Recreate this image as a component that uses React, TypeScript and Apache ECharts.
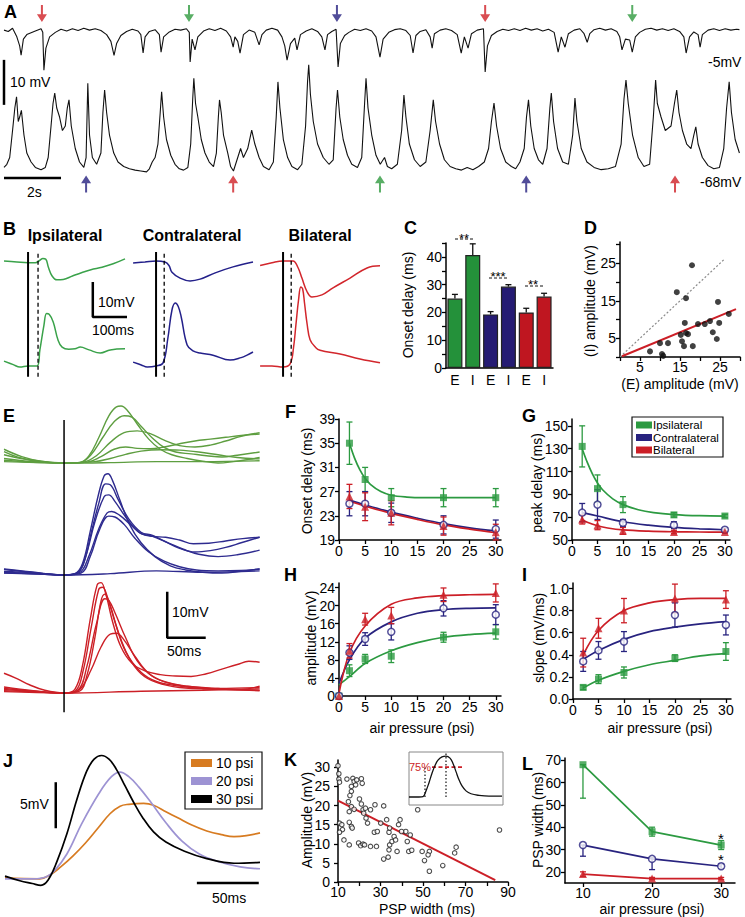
import React, { useEffect, useRef } from "react";
import * as echarts from "echarts";

const FONT = "'Liberation Sans', Arial, Helvetica, sans-serif";
const GREEN = "#2c9a41";
const BLUE = "#28237f";
const RED = "#cc1f27";
const BAR_COLORS = ["#24913a", "#24913a", "#251b73", "#251b73", "#bf1620", "#bf1620"];
const ARROW_COLORS: Record<string, string> = { red: "#cf2027", green: "#2f9a3f", blue: "#25217f" };

// ---------------- Panel A (time s, mV) ----------------
const A_TOP: number[][] = [[0,0],[0.15,-0.3],[0.3,0.4],[0.45,-1.5],[0.55,-3.5],[0.6,-5.6],[0.68,-2],[0.8,-1],[0.95,-0.6],[1.1,-0.2],[1.3,0.3],[1.36,-0.5],[1.4,-8.9],[1.47,-4],[1.6,-1.5],[1.8,-0.5],[2.0,0.2],[2.2,-0.2],[2.4,0.3],[2.6,-0.1],[2.8,0.4],[3.0,0],[3.2,0.3],[3.4,-0.1],[3.6,-1],[3.75,-2.5],[3.86,-5.6],[3.95,-3],[4.1,-1.2],[4.3,-0.3],[4.5,0.2],[4.7,-0.2],[4.8,-1],[4.88,-5.1],[4.95,-1.5],[5.1,-0.3],[5.3,0.1],[5.45,-1],[5.51,-4.9],[5.6,-1.5],[5.8,-0.4],[6.0,0.2],[6.2,0],[6.4,0.3],[6.5,-0.5],[6.53,-7.1],[6.6,-2],[6.7,-4.4],[6.8,-1.5],[7.0,-0.2],[7.2,0.3],[7.4,-0.1],[7.6,0.4],[7.8,-0.2],[7.95,-1.5],[8.04,-3.8],[8.1,-1.5],[8.2,-2.5],[8.28,-5.1],[8.4,-1],[8.6,0],[8.8,-0.5],[8.95,-3.3],[9.05,-1],[9.2,0],[9.4,0.4],[9.6,0],[9.75,-1.5],[9.85,-3.5],[9.93,-6.7],[10.05,-3],[10.2,-1.8],[10.28,-4.4],[10.4,-1],[10.6,-0.2],[10.8,0.3],[11.0,-0.3],[11.15,-1.5],[11.26,-4.4],[11.35,-1],[11.5,-0.3],[11.65,0.2],[11.72,-8.2],[11.8,-3],[11.95,-1.2],[12.1,-0.5],[12.3,0.2],[12.5,-0.1],[12.7,0.3],[12.9,-0.2],[13.05,-1.5],[13.19,-6],[13.3,-2],[13.5,-0.5],[13.7,0.1],[13.9,0.3],[14.1,-0.1],[14.25,-1.2],[14.35,-5.1],[14.45,-1.2],[14.6,-0.3],[14.8,0.1],[14.95,-1.5],[15.02,-4],[15.1,-0.8],[15.3,0],[15.5,0.3],[15.7,-0.1],[15.9,-1],[16.04,-5.1],[16.15,-1.5],[16.28,-4],[16.4,-0.8],[16.6,0],[16.82,0.3],[16.88,-9.3],[16.96,-3.5],[17.1,-1.2],[17.3,-0.3],[17.5,0.2],[17.7,-0.1],[17.9,0.3],[18.1,-0.1],[18.3,0.4],[18.5,0],[18.7,0.3],[18.9,-0.2],[19.1,0.2],[19.3,-0.5],[19.44,-4.9],[19.55,-1.5],[19.68,-3.8],[19.8,-0.8],[20.0,0],[20.2,0.3],[20.35,-0.8],[20.46,-2.7],[20.55,-0.8],[20.7,0.1],[20.9,0.4],[21.1,0],[21.3,0.3],[21.5,-0.3],[21.6,-1.5],[21.68,-4.4],[21.8,-2],[21.95,-2.2],[22.04,-4.9],[22.15,-1.5],[22.3,-0.5],[22.5,0.2],[22.7,0.4],[22.9,0],[23.1,0.3],[23.3,-0.1],[23.5,0.3],[23.7,-0.3],[23.85,-1.5],[23.93,-5.1],[24.05,-1.5],[24.2,-0.4],[24.35,-1],[24.42,-3.8],[24.5,-1],[24.7,0],[24.9,0.3],[25.1,-0.1],[25.3,0.3],[25.5,0],[25.7,0.2],[25.8,0.1]];
const A_BOTTOM: number[][] = [[0,0.8],[0.1,1.5],[0.2,3],[0.3,9],[0.38,14],[0.44,16.5],[0.5,11],[0.55,12],[0.61,13.5],[0.7,8],[0.8,4],[0.95,2],[1.1,0.8],[1.3,0.3],[1.45,0.8],[1.55,3],[1.65,10],[1.72,15],[1.78,17.3],[1.85,14],[1.95,12],[2.05,9],[2.15,10],[2.22,14],[2.28,15.8],[2.36,10],[2.5,5],[2.65,2],[2.8,0.8],[2.88,3],[2.94,19.5],[3.0,8],[3.1,3],[3.25,1.5],[3.4,4],[3.47,13],[3.53,18],[3.6,13],[3.7,8],[3.85,4],[4.0,2],[4.2,1],[4.4,0.5],[4.6,0.2],[4.8,0],[5.0,-0.2],[5.1,0.5],[5.2,2],[5.3,3],[5.4,6],[5.48,13],[5.53,17.6],[5.6,12],[5.7,7],[5.85,3.5],[6.0,1.5],[6.15,0.5],[6.3,0.2],[6.45,0.8],[6.55,6],[6.62,16],[6.66,20.6],[6.72,15],[6.8,12],[6.92,7],[7.05,4],[7.2,2],[7.35,1],[7.45,4],[7.52,12],[7.56,15.8],[7.62,13],[7.7,8],[7.85,4],[7.95,1],[8.05,0],[8.15,2],[8.3,5],[8.4,3],[8.55,5],[8.69,9.1],[8.8,6],[8.95,3],[9.1,1],[9.3,0.3],[9.45,2],[9.55,12],[9.61,19.8],[9.68,14],[9.8,7],[9.95,3],[10.1,1],[10.3,0.3],[10.45,1.5],[10.58,10],[10.65,20],[10.69,23.6],[10.75,17],[10.85,11],[11.0,6],[11.2,3],[11.4,1.5],[11.55,2.5],[11.65,14],[11.7,18],[11.78,12],[11.9,7],[12.05,3.5],[12.2,1.5],[12.4,0.8],[12.55,3],[12.65,15],[12.7,20.6],[12.77,14],[12.9,8],[13.05,3.5],[13.2,1.5],[13.35,3],[13.45,1],[13.6,0.5],[13.8,1.5],[13.95,9],[14.03,16.9],[14.1,12],[14.22,6],[14.4,2.5],[14.6,1],[14.8,2],[14.95,9],[15.06,15.8],[15.14,11],[15.28,6],[15.45,2.5],[15.65,1],[15.85,0.5],[16.05,0.2],[16.25,0.8],[16.45,0.3],[16.65,1],[16.85,2],[17.0,5],[17.1,11],[17.19,15.1],[17.28,10],[17.42,5],[17.6,2],[17.8,1],[17.95,0.5],[18.1,2],[18.25,5],[18.33,12],[18.4,15.8],[18.48,10],[18.6,5],[18.75,2.5],[18.9,1.5],[19.05,5],[19.15,14],[19.2,17.3],[19.28,11],[19.42,5],[19.6,2],[19.8,1.5],[19.95,8],[20.03,16.2],[20.1,11],[20.25,5],[20.45,2],[20.7,0.8],[20.95,0.3],[21.2,0.5],[21.45,1],[21.65,6],[21.75,16],[21.82,20.2],[21.9,15],[22.05,8],[22.25,3],[22.45,1],[22.65,1.5],[22.78,12],[22.86,20.2],[22.92,15],[23.05,12],[23.2,9],[23.4,10],[23.52,15],[23.6,18],[23.68,13],[23.8,9],[23.95,6],[24.1,5],[24.2,8],[24.27,9.8],[24.35,6],[24.5,3],[24.7,1.2],[24.9,0.5],[25.1,0.8],[25.25,5],[25.35,14],[25.44,19.8],[25.52,13],[25.65,7],[25.8,4]];
const A_ARROWS_TOP_T = [1.33, 6.49, 11.68, 16.88, 22.04];
const A_ARROWS_TOP_C = ["red", "green", "blue", "red", "green"];
const A_ARROWS_BOT_T = [2.88, 8.04, 13.19, 18.32, 23.54];
const A_ARROWS_BOT_C = ["blue", "red", "green", "blue", "red"];
const A_BAR_MV = [[0, 24.7], [0, 14.7]];
const A_BAR_S = [[0, -1.56], [2, -1.56]];

// ---------------- Panel B (ms, mV) ----------------
const B_IPSI_TOP = [[-65,0.3],[-30,0],[0,-0.2],[20,-0.2],[32,0.5],[40,1],[48,0.8],[55,-1.5],[65,-4],[78,-5.1],[95,-5],[120,-4],[146,-3],[170,-2.2],[200,-1.5],[230,-0.5],[262,0.9]];
const B_IPSI_BOT = [[-65,1.4],[-40,0.4],[-22,-0.3],[0,0],[24,0],[32,4.6],[43,11.7],[50,15],[57,14.8],[68,12.6],[81,7.4],[92,5.4],[110,4.8],[127,4.9],[141,5.4],[165,4.6],[195,3.7],[222,4.6],[262,4.9]];
const B_CONTRA_TOP = [[-62,-0.3],[-30,0],[0,0.3],[24,0],[35,-1],[43,-2.9],[65,-4.6],[92,-5.4],[119,-4.9],[160,-3.1],[208,-1.4],[262,0]];
const B_CONTRA_BOT = [[-62,1.1],[-40,0.3],[-24,-0.3],[0,0],[19,0.9],[32,8],[43,16],[52,18],[60,17],[68,14],[84,6],[100,4.3],[119,3.7],[154,3.1],[200,1.7],[230,2.4],[246,3.1],[262,4]];
const B_BIL_TOP = [[-62,-1],[-30,-0.2],[0,0.3],[27,0.3],[40,-1.5],[51,-4.6],[65,-8.5],[78,-10],[105,-9.4],[135,-7.4],[181,-4.6],[227,-1.7],[262,-1.1]];
const B_BIL_BOT = [[-62,0],[-30,0],[0,-0.3],[19,0.6],[28,5],[35,12],[42,19],[48,22.6],[53,22],[58,18],[65,12],[73,7.5],[88,5.3],[100,4.5],[154,3.4],[208,2],[262,0.9]];
const B_DASH_MS = [27, 22, 22];
const B_LINE_MV = [-3.1, 32.6];
const B_SCALE = [[175, 24], [175, 14], [275, 14]];

// ---------------- Panel C ----------------
const C_LABELS = ["E", "I", "E", "I", "E", "I"];
const C_MEANS = [25, 40.7, 19.3, 29.3, 20, 25.7];
const C_ERR = [1.5, 4, 1, 0.7, 1.5, 1.2];

// ---------------- Panel D (E amp, I amp) ----------------
const D_POINTS = [[7.5,1.5],[10,3.7],[10.5,0.8],[10.8,0.3],[12,3.7],[14.2,17.3],[15.2,5.9],[15.5,4.2],[16,2.9],[16.2,9.1],[16.5,15.7],[16.5,6.4],[17,6.1],[18,24.5],[18.2,2.9],[19.5,8.8],[21.2,8.8],[22.5,9.6],[23.2,6.6],[24.2,4.8],[24.5,14.7],[24.8,9.1],[27.2,11.5]];
const D_FIT = [[0.5, 0.2], [29, 12.8]];
const D_UNITY = [[0, 0], [26, 26]];

// ---------------- Panel E (ms, mV) ----------------
const E_IPSI = [
  [[-78,2.5],[-60,1.3],[-40,0.6],[-20,0.2],[0,0],[20,0.1],[32,1.5],[45,5.5],[58,10.2],[68,12.2],[74,12.4],[82,11.5],[95,8.5],[110,5.2],[125,3],[140,1.8],[160,1],[180,0.4],[200,0],[220,0.3],[240,0.8],[254,1.2]],
  [[-78,3],[-55,1.4],[-30,0.4],[0,0],[22,0.2],[35,1.8],[50,5.5],[65,9],[78,10.3],[88,10],[100,8],[115,5.4],[130,3.4],[145,2.4],[165,2],[185,1.6],[205,1.3],[225,1.7],[254,2.4]],
  [[-78,1.8],[-50,0.8],[-20,0.1],[0,0],[25,0.2],[42,1.6],[60,4.5],[78,6.6],[95,7],[112,6.4],[130,5],[150,3.8],[170,3.5],[190,3.9],[210,4.8],[230,5.8],[254,6.6]],
  [[-78,1],[-40,0.3],[0,0],[30,0.2],[48,1.4],[65,3],[80,3.5],[95,3.2],[112,3.1],[130,3.5],[150,4.2],[170,4.8],[190,5.2],[210,5.6],[230,6],[254,6.3]],
  [[-78,0.6],[-30,0.1],[0,0],[40,0.3],[60,1],[80,1.9],[100,2.6],[125,2.9],[150,2.8],[175,2.4],[200,1.8],[225,1.2],[254,0.9]],
  [[-78,0.3],[0,0],[60,0.1],[120,0.3],[180,0.3],[254,0.5]],
];
const E_CONTRA = [
  [[-78,1.2],[-50,0.7],[-20,0.2],[0,0],[14,0.3],[24,2.5],[34,9.5],[44,17],[52,21.5],[57,22],[63,20.5],[72,16.5],[85,11],[100,7],[118,4],[138,2],[158,1.1],[180,0.6],[205,0.4],[230,0.8],[254,1.3]],
  [[-78,0.8],[-40,0.5],[0,0],[15,0.3],[25,2.3],[35,9],[45,15.5],[54,19.8],[60,19.6],[70,16.5],[84,12.2],[100,9.3],[115,8.6],[130,7.4],[150,5.8],[170,5],[190,5.3],[210,6],[230,7],[254,8.2]],
  [[-78,0.6],[-40,0.3],[0,0],[18,0.5],[28,4],[40,11.5],[52,17],[58,17.4],[66,16],[80,12.6],[98,9.2],[115,8.4],[135,7],[155,5.6],[175,4.5],[200,4],[225,4.4],[254,5.4]],
  [[-78,1.3],[-45,0.7],[0,0],[20,0.5],[32,4],[45,10],[56,13.5],[62,13.8],[72,13],[86,11],[100,9],[115,8.4],[132,8.2],[150,7.6],[168,6.8],[188,6.9],[210,7.4],[232,7.9],[254,8.2]],
  [[-78,0.4],[-30,0.2],[0,0],[22,0.4],[34,4],[46,9.8],[58,12.8],[66,12.6],[78,11],[92,8],[110,5],[130,3],[150,1.8],[172,1.1],[200,0.9],[230,1],[254,1.3]],
  [[-78,0.5],[-30,0.2],[0,0],[60,0.3],[120,0.9],[180,0.6],[254,0.9]],
];
const E_BIL = [
  [[-78,4.3],[-62,3.2],[-45,1.8],[-25,0.6],[0,0],[14,0.8],[24,6],[34,16],[43,23.5],[48,24],[55,21],[63,15.5],[74,10],[88,6.5],[105,4.8],[125,4],[145,3.7],[165,3.6],[185,4.2],[205,5.2],[225,6.2],[240,6.9],[254,6.7]],
  [[-78,1],[-40,0.4],[0,0],[15,0.5],[25,5],[35,14],[45,22.5],[50,23],[56,21],[66,15.5],[80,9],[100,4.5],[120,2.5],[150,1.5],[180,1],[210,0.8],[254,0.5]],
  [[-78,0.8],[-40,0.3],[0,0],[18,0.6],[30,6],[42,15],[53,20.5],[58,20.2],[66,17.5],[80,12],[95,7],[115,3.6],[140,2],[170,1.3],[200,1],[230,0.8],[254,1.5]],
  [[-78,1.3],[-40,0.5],[0,0],[20,0.8],[35,5],[48,10],[60,12.8],[68,13],[78,11.5],[92,8],[110,4.3],[130,2.5],[160,1.5],[200,1],[254,1.2]],
  [[-78,0.5],[-30,0.2],[0,0],[20,0.4],[30,4],[40,12],[48,20],[53,21.5],[60,19],[70,13.5],[84,7.8],[100,4.2],[120,2.3],[150,1.2],[200,0.8],[254,0.6]],
  [[-78,0.3],[0,0],[100,0.4],[180,0.6],[254,0.9]],
];
const E_STIM = [[0, 33.7], [0, -29.8]];
const E_SCALE = [[134, 22], [134, 12], [184, 12]];

// ---------------- Panels F-I ----------------
const PRESSURE = [2, 5, 10, 20, 30];
const F_IPSI = [35, 29, 26, 26, 26];
const F_IPSI_ERR = [3.5, 2, 1.5, 1.5, 1.5];
const F_CONTRA = [25, 25, 23.5, 21.5, 20.8];
const F_CONTRA_ERR = [2, 2, 1.6, 1.5, 1.5];
const F_BIL = [26.2, 24.5, 23.5, 21.3, 20.3];
const F_BIL_ERR = [2, 2.3, 2, 1.5, 1.3];
const F_FIT_IPSI = [[2,35],[3,32.5],[4,30.6],[5,29.2],[6,28.2],[8,27],[10,26.4],[13,26.1],[16,26],[20,26],[25,26],[30,26]];
const F_FIT_CONTRA = [[2,25.6],[5,24.8],[10,23.6],[15,22.6],[20,21.7],[25,21],[30,20.5]];
const F_FIT_BIL = [[2,25.4],[5,24.6],[10,23.4],[15,22.4],[20,21.5],[25,20.8],[30,20.2]];

const G_IPSI = [132, 95, 81, 72, 71];
const G_IPSI_ERR = [18, 12, 7, 2, 1.5];
const G_CONTRA = [74, 81, 65, 63, 59];
const G_CONTRA_ERR = [8, 13, 3, 3, 1.5];
const G_BIL = [68, 63, 58, 57, 57];
const G_BIL_ERR = [4, 4, 3, 1.5, 1];
const G_FIT_IPSI = [[2,130],[3,118],[4,108],[5,100],[6,94],[8,86],[10,81],[13,76.5],[16,74],[20,72.3],[25,71.3],[30,71]];
const G_FIT_CONTRA = [[2,74],[5,71],[10,66],[15,63],[20,61],[25,59.8],[30,59]];
const G_FIT_BIL = [[2,68],[3,65.5],[5,62.5],[7,60.5],[10,58.8],[15,57.7],[20,57.2],[25,57],[30,56.9]];

const H_PRESSURE = [0, 2, 5, 10, 20, 30];
const H_IPSI = [0, 5.6, 8.2, 8.8, 13, 14.2];
const H_IPSI_ERR = [0, 1.3, 1, 1.4, 1.1, 1.6];
const H_CONTRA = [0, 9.6, 12.6, 14.2, 19.4, 18];
const H_CONTRA_ERR = [0, 1.5, 1.4, 1.8, 1.7, 2.2];
const H_BIL = [0, 10, 17, 17.8, 22.4, 22.8];
const H_BIL_ERR = [0, 1.6, 1.3, 1.8, 1.5, 2];
const H_FIT_IPSI = [[0,2.5],[2,4.3],[5,7.2],[10,10],[15,11.8],[20,13],[25,13.6],[30,13.9]];
const H_FIT_CONTRA = [[0,2.8],[2,8],[5,12.8],[10,16.4],[15,18.3],[20,19.1],[25,19.4],[30,19.5]];
const H_FIT_BIL = [[0,0.6],[2,9.5],[5,15.5],[10,20.3],[15,21.7],[20,22.2],[25,22.4],[30,22.5]];

const I_IPSI = [0.105, 0.18, 0.24, 0.37, 0.43];
const I_IPSI_ERR = [0.02, 0.04, 0.05, 0.03, 0.08];
const I_CONTRA = [0.34, 0.44, 0.52, 0.76, 0.67];
const I_CONTRA_ERR = [0.09, 0.08, 0.09, 0.11, 0.09];
const I_BIL = [0.42, 0.64, 0.8, 0.91, 0.9];
const I_BIL_ERR = [0.13, 0.09, 0.11, 0.13, 0.08];
const I_FIT_IPSI = [[2,0.1],[5,0.17],[10,0.25],[15,0.31],[20,0.35],[25,0.39],[30,0.41]];
const I_FIT_CONTRA = [[2,0.36],[5,0.44],[10,0.54],[15,0.61],[20,0.65],[25,0.68],[30,0.7]];
const I_FIT_BIL = [[2,0.4],[5,0.62],[10,0.8],[15,0.87],[20,0.9],[25,0.91],[30,0.91]];

// ---------------- Panel J (ms, mV) ----------------
const J_10PSI = [[0,0],[28,-0.1],[36,0.3],[45,1.2],[55,2.4],[65,3.8],[75,5.4],[85,7],[93,7.8],[100,8],[112,8.1],[120,7.9],[130,7.2],[140,6.5],[150,5.8],[163,5.1],[175,4.7],[185,4.5],[195,4.6],[206,4.9]];
const J_20PSI = [[0,-0.1],[23,-0.1],[33,0.1],[40,0.8],[50,2.6],[62,5.9],[76,9.2],[86,11],[93,11.5],[100,11],[108,9.9],[118,8.2],[130,6],[143,4],[157,2.6],[172,1.8],[190,1.2],[206,1]];
const J_30PSI = [[0,0.2],[12,-0.3],[22,-0.6],[29,-0.8],[35,-0.2],[42,1.8],[50,4.8],[58,8.5],[66,11.6],[72,12.9],[78,13.3],[84,12.9],[90,11.8],[97,10],[104,8.2],[111,6.6],[120,5],[130,3.9],[145,2.9],[163,2.1],[185,1.6],[206,1.7]];
const J_LEGEND = ["10 psi", "20 psi", "30 psi"];
const J_COLORS = ["#d77b21", "#9d93d3", "#000000"];
const J_BAR_MV = [[41, 10.4], [41, 5.4]];
const J_BAR_MS = [[155, -0.54], [205, -0.54]];

// ---------------- Panel K ----------------
const K_POINTS = [[10,30.4],[10.4,28.3],[10.4,26.9],[10.7,26.1],[14.2,26.9],[17,27.1],[17.6,26.3],[18.3,25.4],[18.8,26.7],[21,27],[21.4,25.8],[16.3,25],[16.3,23.7],[15.6,22.6],[14.9,21],[16.3,19.7],[17.6,19],[15.3,18.4],[10.7,15.4],[11.8,15],[12.1,13.7],[10.7,13],[15.3,15.6],[16.3,14.5],[16.7,14.1],[12.8,11],[15.3,9.7],[19.7,10.2],[20.7,9.5],[21.8,9.9],[22.5,9.7],[20.1,21.7],[21,20.4],[21.8,18.9],[22.9,19.3],[22.1,18],[23.2,16.7],[23.9,15.4],[25.3,18.9],[27.4,20.2],[25.3,9.3],[27.1,13],[28.5,13.2],[31.5,19.9],[30.1,15.4],[32.9,16.3],[28.1,9.3],[31.5,6],[33.6,6.5],[34,8.4],[34.3,9.7],[35.4,10.6],[36.4,11.9],[37.1,11],[37.8,8],[34,13],[34.3,14.1],[38.5,15],[39.2,16.3],[41.9,13.2],[39.9,13.2],[42.6,10.6],[44,12.3],[43.3,8],[44.7,8.3],[47.5,18.9],[49.6,8],[50.7,5.6],[53,8],[53,2.8],[52.4,7.1],[59.3,4.3],[64.9,7.6],[65.6,9.1],[86,13.6]];
const K_FIT = [[10, 21.3], [84, 0.5]];
const K_INSET = [[0,0],[10,0],[14,0.01],[17,0.15],[20,0.35],[23,0.58],[26,0.77],[29,0.9],[33,0.98],[37,1],[41,0.95],[44,0.82],[47,0.62],[50,0.42],[53,0.27],[57,0.15],[62,0.08],[70,0.04],[80,0.02],[93,0.02]];
const K_INSET_ONSET = [[16, 0], [16, 0.73]];
const K_INSET_PEAK = [[37, 0], [37, 1.1]];
const K_INSET_75 = [[23, 0.73], [53, 0.73]];

// ---------------- Panel L ----------------
const L_PRESSURE = [10, 20, 30];
const L_IPSI = [68, 38, 32];
const L_IPSI_LO = [53, 36, 30];
const L_IPSI_HI = [68, 40, 34];
const L_CONTRA = [32, 25.8, 22.5];
const L_CONTRA_LO = [27, 21, 21.5];
const L_CONTRA_HI = [32, 26.5, 23.5];
const L_BIL = [19, 17, 17];
const L_BIL_LO = [18, 16.5, 16.5];
const L_BIL_HI = [20, 17.5, 17.5];

// ================= option builder =================
function buildOption() {
  const grids: any[] = [];
  const xAxis: any[] = [];
  const yAxis: any[] = [];
  const series: any[] = [];
  const graphic: any[] = [];

  const addGrid = (left: number, top: number, width: number, height: number, xa: any, ya: any) => {
    const gi = grids.length;
    grids.push({ left, top, width, height, containLabel: false, show: false });
    xAxis.push({ gridIndex: gi, ...xa });
    yAxis.push({ gridIndex: gi, ...ya });
    return gi;
  };
  const hidden = (min: number, max: number) => ({ type: "value", min, max, show: false });
  const vis = (min: number, max: number, labels: number[], ticks: number[], fmt?: (v: number) => string, margin = 4) => ({
    type: "value",
    min,
    max,
    axisLine: { show: true, onZero: false, lineStyle: { color: "#000", width: 1.5 } },
    axisTick: { show: true, length: 4, inside: false, customValues: ticks, lineStyle: { color: "#000", width: 1.3 } },
    axisLabel: {
      show: true,
      customValues: labels,
      color: "#000",
      fontSize: 14,
      fontFamily: FONT,
      margin,
      formatter: fmt ? (v: number) => fmt(v) : (v: number) => String(v),
    },
    splitLine: { show: false },
  });
  const line = (gi: number, data: any, color: string, width = 1.2, extra: any = {}) =>
    series.push({
      type: "line",
      xAxisIndex: gi,
      yAxisIndex: gi,
      data,
      symbol: "none",
      showSymbol: false,
      lineStyle: { color, width },
      itemStyle: { color },
      silent: true,
      z: 2,
      ...extra,
    });
  const scatter = (gi: number, data: any, symbol: string, size: any, itemStyle: any, z = 5) =>
    series.push({ type: "scatter", xAxisIndex: gi, yAxisIndex: gi, data, symbol, symbolSize: size, itemStyle, silent: true, z, clip: false });
  const errBars = (gi: number, data: number[][], color: string, cap = 3, capBottom = true, capTop = true) =>
    series.push({
      type: "custom",
      xAxisIndex: gi,
      yAxisIndex: gi,
      data,
      silent: true,
      clip: false,
      z: 3,
      encode: { x: 0, y: [1, 2] },
      renderItem: (_p: any, api: any) => {
        const x = api.value(0);
        const lo = api.value(1);
        const hi = api.value(2);
        const a = api.coord([x, hi]);
        const b = api.coord([x, lo]);
        const st = { stroke: color, lineWidth: 1.3 };
        const ch: any[] = [{ type: "line", shape: { x1: a[0], y1: a[1], x2: b[0], y2: b[1] }, style: st }];
        if (capTop) ch.push({ type: "line", shape: { x1: a[0] - cap, y1: a[1], x2: a[0] + cap, y2: a[1] }, style: st });
        if (capBottom) ch.push({ type: "line", shape: { x1: b[0] - cap, y1: b[1], x2: b[0] + cap, y2: b[1] }, style: st });
        return { type: "group", children: ch };
      },
    });
  const pts = (xs: number[], ys: number[]) => xs.map((x, i) => [x, ys[i]]);
  const errs = (xs: number[], ys: number[], es: number[]) => xs.map((x, i) => [x, ys[i] - es[i], ys[i] + es[i]]);
  const T = (x: number, y: number, text: string, o: any = {}) =>
    graphic.push({
      type: "text",
      x,
      y,
      rotation: o.rot || 0,
      silent: true,
      z: 10,
      style: {
        text,
        fill: o.color || "#000",
        fontSize: o.size || 14,
        fontFamily: FONT,
        fontWeight: o.bold ? "bold" : "normal",
        align: o.align || "left",
        verticalAlign: o.va || "middle",
        textAlign: o.align || "left",
        textVerticalAlign: o.va || "middle",
      },
    });
  const R = (x: number, y: number, w: number, h: number, fill: string, stroke?: string, lw = 1) =>
    graphic.push({ type: "rect", shape: { x, y, width: w, height: h }, silent: true, z: 9, style: { fill, stroke: stroke || null, lineWidth: lw } });
  const Ln = (x1: number, y1: number, x2: number, y2: number, color: string, lw = 1, dash?: number[]) =>
    graphic.push({ type: "line", shape: { x1, y1, x2, y2 }, silent: true, z: 10, style: { stroke: color, lineWidth: lw, lineDash: dash || null } });

  // ---------- A ----------
  const aTop = addGrid(4, 0, 736, 80, hidden(0, 25.82), hidden(-11.1, 6.7));
  const aBot = addGrid(4, 55, 736, 140, hidden(0, 25.82), hidden(-5.33, 25.78));
  line(aTop, A_TOP, "#111", 1.1);
  line(aBot, A_BOTTOM, "#111", 1.1);
  line(aBot, A_BAR_MV, "#000", 2.5, { clip: false });
  line(aBot, A_BAR_S, "#000", 2.5, { clip: false });
  scatter(
    aTop,
    A_ARROWS_TOP_T.map((t, i) => ({ value: [t, 3.7], itemStyle: { color: ARROW_COLORS[A_ARROWS_TOP_C[i]] } })),
    "path://M4,0 L6,0 L6,11 L10,11 L5,20 L0,11 L4,11 Z",
    [10, 17],
    {}
  );
  scatter(
    aBot,
    A_ARROWS_BOT_T.map((t, i) => ({ value: [t, -2.9], itemStyle: { color: ARROW_COLORS[A_ARROWS_BOT_C[i]] } })),
    "path://M5,0 L10,9 L6,9 L6,20 L4,20 L4,9 L0,9 Z",
    [10, 17],
    {}
  );
  T(4, 12, "A", { bold: true, size: 18 });
  T(10, 82, "10 mV");
  T(708, 62, "-5mV");
  T(700, 182, "-68mV");
  T(27, 192, "2s");

  // ---------- B ----------
  const bCols = [
    { left: 4, top: B_IPSI_TOP, bot: B_IPSI_BOT, color: "#3aa24a", title: "Ipsilateral", cx: 65 },
    { left: 132, top: B_CONTRA_TOP, bot: B_CONTRA_BOT, color: "#23208a", title: "Contralateral", cx: 192 },
    { left: 259, top: B_BIL_TOP, bot: B_BIL_BOT, color: "#d2262c", title: "Bilateral", cx: 320 },
  ];
  bCols.forEach((c, i) => {
    const gt = addGrid(c.left, 251.5, 121, 52.5, hidden(-65, 262), hidden(-12, 3));
    const gb = addGrid(c.left, 278.5, 121, 98, hidden(-65, 262), hidden(-3, 25));
    line(gt, c.top, c.color, 1.5, { smooth: 0.4 });
    line(gb, c.bot, c.color, 1.5, { smooth: 0.4 });
    line(gb, [[0, B_LINE_MV[0]], [0, B_LINE_MV[1]]], "#000", 2, { clip: false });
    line(gb, [[B_DASH_MS[i], B_LINE_MV[0]], [B_DASH_MS[i], B_LINE_MV[1]]], "#000", 1.3, { clip: false, lineStyle: { color: "#000", width: 1.3, type: [4, 3] } });
    if (i === 0) line(gb, B_SCALE, "#000", 2.5, { clip: false });
    T(c.cx, 235, c.title, { bold: true, size: 16, align: "center" });
  });
  T(3, 229, "B", { bold: true, size: 18 });
  T(98, 302, "10mV");
  T(92, 330, "100ms");

  // ---------- C ----------
  const cG = grids.length;
  grids.push({ left: 446, top: 243, width: 107, height: 125, show: false });
  xAxis.push({
    gridIndex: cG,
    type: "category",
    data: C_LABELS,
    axisLine: { show: true, lineStyle: { color: "#000", width: 1.5 } },
    axisTick: { show: false },
    axisLabel: { color: "#000", fontSize: 14, fontFamily: FONT, margin: 5 },
  });
  yAxis.push({ gridIndex: cG, ...vis(0, 45, [0, 10, 20, 30, 40], [0, 5, 10, 15, 20, 25, 30, 35, 40, 45]) });
  series.push({
    type: "bar",
    xAxisIndex: cG,
    yAxisIndex: cG,
    barWidth: 15,
    silent: true,
    z: 2,
    data: C_MEANS.map((v, i) => ({ value: v, itemStyle: { color: BAR_COLORS[i], borderColor: "#222", borderWidth: 1.2 } })),
  });
  errBars(cG, C_MEANS.map((v, i) => [i, v, v + C_ERR[i]]), "#111", 3, false, true);
  T(404, 228, "C", { bold: true, size: 18 });
  T(408, 305, "Onset delay (ms)", { rot: Math.PI / 2, align: "center" });
  T(464, 238, "**", { size: 13, align: "center" });
  Ln(455, 239, 473, 239, "#111", 1, [3, 2]);
  T(498, 276, "***", { size: 13, align: "center" });
  Ln(489, 278, 508, 278, "#111", 1, [3, 2]);
  T(533, 284, "**", { size: 13, align: "center" });
  Ln(525, 286, 545, 286, "#111", 1, [3, 2]);

  // ---------- D ----------
  const dG = addGrid(620, 242, 120, 115, vis(0, 30, [5, 15, 25], [0, 5, 10, 15, 20, 25, 30], undefined, 3), vis(0, 30.7, [5, 15, 25], [0, 5, 10, 15, 20, 25, 30]));
  line(dG, D_UNITY, "#8a8a8a", 1.2, { lineStyle: { color: "#8a8a8a", width: 1.2, type: [2, 2] } });
  line(dG, D_FIT, RED, 2);
  scatter(dG, D_POINTS, "circle", 6, { color: "#111" });
  T(584, 228, "D", { bold: true, size: 18 });
  T(590, 301, "(I) amplitude (mV)", { rot: Math.PI / 2, align: "center" });
  T(680, 384, "(E) amplitude (mV)", { align: "center" });

  // ---------- E ----------
  const eG = addGrid(4, 395, 256, 80, hidden(-78, 254.5), hidden(-2.6, 14.8));
  const eB = addGrid(4, 465, 256, 120, hidden(-78, 254.5), hidden(-2.17, 23.9));
  const eR = addGrid(4, 575, 256, 130, hidden(-78, 254.5), hidden(-2.6, 25.65));
  E_IPSI.forEach((d) => line(eG, d, "#5e9e40", 1.4, { smooth: 0.4 }));
  E_CONTRA.forEach((d) => line(eB, d, "#2e2b8f", 1.4, { smooth: 0.4 }));
  E_BIL.forEach((d) => line(eR, d, "#cc1f26", 1.4, { smooth: 0.4 }));
  line(eB, E_STIM, "#000", 1.5, { clip: false });
  line(eR, E_SCALE, "#000", 2.5, { clip: false });
  T(3, 416, "E", { bold: true, size: 18 });
  T(172, 612, "10mV");
  T(167, 651, "50ms");

  // ---------- F, G, H, I ----------
  const xTicks = [0, 5, 10, 15, 20, 25, 30];
  const fG = addGrid(339, 419, 162, 121, vis(0, 31, xTicks, xTicks), vis(19, 39, [19, 23, 27, 31, 35, 39], [19, 23, 27, 31, 35, 39]));
  const gG = addGrid(572, 419, 158, 121, vis(0, 31, xTicks, xTicks), vis(50, 156, [50, 70, 90, 110, 130, 150], [50, 70, 90, 110, 130, 150]));
  const hG = addGrid(339, 583, 162, 113, vis(0, 31, xTicks, xTicks), vis(0, 25, [0, 4, 8, 12, 16, 20, 24], [0, 4, 8, 12, 16, 20, 24]));
  const iG = addGrid(573, 583, 158, 116, vis(0, 31, xTicks, xTicks), vis(0, 1.05, [0, 0.2, 0.4, 0.6, 0.8, 1.0], [0, 0.2, 0.4, 0.6, 0.8, 1.0], (v) => v.toFixed(1)));

  const panel = (gi: number, xs: number[], d: any) => {
    const sm = { smooth: 0.35 };
    line(gi, d.fitI, GREEN, 1.7, sm);
    line(gi, d.fitC, BLUE, 1.7, sm);
    line(gi, d.fitB, RED, 1.7, sm);
    errBars(gi, errs(xs, d.i, d.ie), GREEN);
    errBars(gi, errs(xs, d.c, d.ce), BLUE);
    errBars(gi, errs(xs, d.b, d.be), RED);
    scatter(gi, pts(xs, d.i), "rect", 7, { color: GREEN });
    scatter(gi, pts(xs, d.c), "circle", 7, { color: "#fff", borderColor: BLUE, borderWidth: 1.5 });
    scatter(gi, pts(xs, d.b), "triangle", 8, { color: RED });
  };
  panel(fG, PRESSURE, { fitI: F_FIT_IPSI, fitC: F_FIT_CONTRA, fitB: F_FIT_BIL, i: F_IPSI, ie: F_IPSI_ERR, c: F_CONTRA, ce: F_CONTRA_ERR, b: F_BIL, be: F_BIL_ERR });
  panel(gG, PRESSURE, { fitI: G_FIT_IPSI, fitC: G_FIT_CONTRA, fitB: G_FIT_BIL, i: G_IPSI, ie: G_IPSI_ERR, c: G_CONTRA, ce: G_CONTRA_ERR, b: G_BIL, be: G_BIL_ERR });
  panel(hG, H_PRESSURE, { fitI: H_FIT_IPSI, fitC: H_FIT_CONTRA, fitB: H_FIT_BIL, i: H_IPSI, ie: H_IPSI_ERR, c: H_CONTRA, ce: H_CONTRA_ERR, b: H_BIL, be: H_BIL_ERR });
  panel(iG, PRESSURE, { fitI: I_FIT_IPSI, fitC: I_FIT_CONTRA, fitB: I_FIT_BIL, i: I_IPSI, ie: I_IPSI_ERR, c: I_CONTRA, ce: I_CONTRA_ERR, b: I_BIL, be: I_BIL_ERR });

  T(285, 412, "F", { bold: true, size: 18 });
  T(522, 416, "G", { bold: true, size: 18 });
  T(284, 575, "H", { bold: true, size: 18 });
  T(522, 575, "I", { bold: true, size: 18 });
  T(307, 481, "Onset delay (ms)", { rot: Math.PI / 2, align: "center" });
  T(537, 483, "peak delay (ms)", { rot: Math.PI / 2, align: "center" });
  T(311, 638, "amplitude (mV)", { rot: Math.PI / 2, align: "center" });
  T(539, 638, "slope (mV/ms)", { rot: Math.PI / 2, align: "center" });
  T(422, 728, "air pressure (psi)", { align: "center" });
  T(660, 728, "air pressure (psi)", { align: "center" });
  // legend G
  R(632, 417, 91, 40, "#fff", "#111", 1.2);
  const legNames = ["Ipsilateral", "Contralateral", "Bilateral"];
  const legCols = [GREEN, BLUE, RED];
  legNames.forEach((n, k) => {
    const y = 425 + k * 12.5;
    R(636, y - 3.5, 16, 7, legCols[k]);
    T(653, y, n, { size: 11.5 });
  });

  // ---------- J ----------
  const jG = addGrid(5, 750, 255, 139, hidden(0, 206), hidden(-1.2, 13.9));
  line(jG, J_10PSI, J_COLORS[0], 1.7, { smooth: 0.4 });
  line(jG, J_20PSI, J_COLORS[1], 1.7, { smooth: 0.4 });
  line(jG, J_30PSI, J_COLORS[2], 1.7, { smooth: 0.4 });
  line(jG, J_BAR_MV, "#000", 2.5, { clip: false });
  line(jG, J_BAR_MS, "#000", 2.5, { clip: false });
  T(3, 761, "J", { bold: true, size: 18 });
  R(185, 752, 77, 57, "#fff", "#111", 1.2);
  J_LEGEND.forEach((n, k) => {
    const y = 763 + k * 18;
    R(191, y - 4, 21, 8, J_COLORS[k]);
    T(216, y, n, { size: 14 });
  });
  T(20, 804, "5mV");
  T(212, 898, "50ms");

  // ---------- K ----------
  const kYAxis = vis(0, 31.9, [0, 5, 10, 15, 20, 25, 30], [0, 5, 10, 15, 20, 25, 30], undefined, 8);
  const kG = addGrid(338, 760, 170, 122, vis(10, 90, [10, 30, 50, 70, 90], [10, 20, 30, 40, 50, 60, 70, 80, 90], undefined, 3), kYAxis);
  line(kG, K_FIT, RED, 2);
  scatter(kG, K_POINTS, "circle", 4.5, { color: "#fff", borderColor: "#222", borderWidth: 1.1 });
  R(409, 752, 94, 53, "rgba(255,255,255,0)", "#888", 1);
  const kI = addGrid(409, 752, 94, 53, hidden(0, 94), hidden(-0.195, 1.1));
  line(kI, K_INSET, "#111", 1.3, { smooth: 0.4, z: 11 });
  line(kI, K_INSET_ONSET, "#111", 1.2, { lineStyle: { color: "#111", width: 1.2, type: [1.5, 2] } });
  line(kI, K_INSET_PEAK, "#111", 1.2, { lineStyle: { color: "#111", width: 1.2, type: [1.5, 2] } });
  line(kI, K_INSET_75, RED, 1.6, { lineStyle: { color: RED, width: 1.6, type: [4, 2.5] } });
  T(431, 767, "75%", { size: 11, color: RED, align: "right" });
  T(284, 760, "K", { bold: true, size: 18 });
  T(307, 820, "Amplitude (mV)", { rot: Math.PI / 2, align: "center" });
  T(427, 909, "PSP width (ms)", { align: "center" });

  // ---------- L ----------
  const lG = addGrid(565, 758, 170, 125, vis(7.4, 32, [10, 20, 30], [10, 20, 30], undefined, 3), vis(15, 71, [20, 30, 40, 50, 60, 70], [20, 30, 40, 50, 60, 70]));
  line(lG, pts(L_PRESSURE, L_IPSI), GREEN, 1.7);
  line(lG, pts(L_PRESSURE, L_CONTRA), BLUE, 1.7);
  line(lG, pts(L_PRESSURE, L_BIL), RED, 1.7);
  errBars(lG, L_PRESSURE.map((x, i) => [x, L_IPSI_LO[i], L_IPSI_HI[i]]), GREEN);
  errBars(lG, L_PRESSURE.map((x, i) => [x, L_CONTRA_LO[i], L_CONTRA_HI[i]]), BLUE);
  errBars(lG, L_PRESSURE.map((x, i) => [x, L_BIL_LO[i], L_BIL_HI[i]]), RED);
  scatter(lG, pts(L_PRESSURE, L_IPSI), "rect", 7, { color: GREEN });
  scatter(lG, pts(L_PRESSURE, L_CONTRA), "circle", 7, { color: "#fff", borderColor: BLUE, borderWidth: 1.5 });
  scatter(lG, pts(L_PRESSURE, L_BIL), "triangle", 8, { color: RED });
  T(522, 764, "L", { bold: true, size: 18 });
  T(538, 820, "PSP width (ms)", { rot: Math.PI / 2, align: "center" });
  T(652, 909, "air pressure (psi)", { align: "center" });
  T(721, 838, "*", { align: "center", size: 15 });
  T(721, 859, "*", { align: "center", size: 15 });

  return {
    animation: false,
    backgroundColor: "#fff",
    textStyle: { fontFamily: FONT },
    grid: grids,
    xAxis,
    yAxis,
    series,
    graphic: { elements: graphic },
  };
}

export default function App() {
  const ref = useRef<HTMLDivElement>(null);
  useEffect(() => {
    const chart = echarts.init(ref.current as HTMLDivElement, null, { renderer: "svg" });
    chart.setOption(buildOption() as any);
    return () => chart.dispose();
  }, []);
  return <div ref={ref} style={{ position: "absolute", left: 0, top: 0, width: 745, height: 917, background: "#fff" }} />;
}
